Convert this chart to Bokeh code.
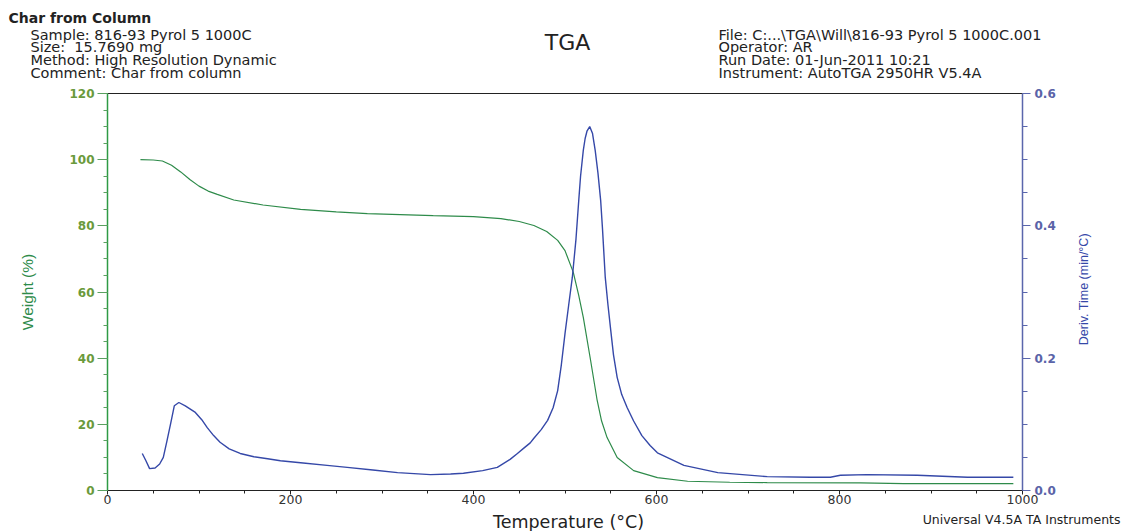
import math
from bokeh.plotting import figure
from bokeh.layouts import column, row
from bokeh.models import Range1d, LinearAxis, SingleIntervalTicker, FixedTicker, PrintfTickFormatter
from bokeh.core.properties import value
from bokeh.embed import file_html
from bokeh.resources import INLINE

# ---- data ----
weight_temp = [36, 50, 60, 70, 80, 90, 100, 110, 120, 138, 170, 211, 250, 284, 356, 400,
               430, 450, 466, 480, 492, 500, 509, 515, 520, 528, 535, 540, 546, 557, 575,
               601, 634, 680, 721, 823, 870, 990]
weight_pct = [100.0, 99.9, 99.6, 98.3, 96.3, 94.0, 92.0, 90.5, 89.5, 87.8, 86.3, 85.0, 84.2,
              83.7, 83.1, 82.8, 82.2, 81.3, 80.1, 78.3, 75.6, 72.5, 66.0, 59.0, 52.3, 39.3,
              27.5, 21.0, 16.0, 10.0, 6.0, 3.9, 2.8, 2.5, 2.4, 2.3, 2.1, 2.1]

deriv_temp = [38, 42, 46, 52, 57, 61, 65, 69, 73, 78, 85, 96, 103, 109, 116, 123, 133, 145,
              160, 175, 189, 211, 240, 262, 290, 317, 353, 375, 389, 410, 426, 440, 448, 455,
              462, 466, 474, 481, 487, 492, 496, 500, 504, 508, 512, 515, 517, 520, 522, 524,
              527, 530, 533, 536, 539, 541, 544, 547, 550, 553, 557, 562, 568, 575, 584, 593,
              601, 630, 667, 721, 768, 790, 801, 830, 885, 940, 990]
deriv_val = [0.056, 0.045, 0.033, 0.034, 0.040, 0.050, 0.075, 0.101, 0.128, 0.133, 0.128,
             0.118, 0.107, 0.095, 0.083, 0.073, 0.063, 0.056, 0.051, 0.048, 0.045, 0.042,
             0.038, 0.035, 0.031, 0.027, 0.024, 0.025, 0.026, 0.030, 0.035, 0.047, 0.056,
             0.064, 0.072, 0.079, 0.092, 0.106, 0.125, 0.151, 0.190, 0.237, 0.280, 0.322,
             0.380, 0.438, 0.475, 0.514, 0.532, 0.543, 0.550, 0.540, 0.514, 0.480, 0.438,
             0.395, 0.322, 0.280, 0.242, 0.205, 0.171, 0.145, 0.125, 0.105, 0.083, 0.068,
             0.057, 0.038, 0.027, 0.021, 0.020, 0.020, 0.023, 0.024, 0.023, 0.020, 0.020]

deriv_ticks = [0.0, 0.2, 0.4, 0.6]
deriv_minor = [0.05, 0.1, 0.15, 0.25, 0.3, 0.35, 0.45, 0.5, 0.55]

header_title = "Char from Column"
header_left = ["Sample: 816-93 Pyrol 5 1000C", "Size:\u00a0 15.7690 mg",
               "Method: High Resolution Dynamic", "Comment: Char from column"]
header_right = ["File: C:...\\TGA\\Will\\816-93 Pyrol 5 1000C.001", "Operator: AR",
                "Run Date: 01-Jun-2011 10:21", "Instrument: AutoTGA 2950HR V5.4A"]
chart_title = "TGA"
x_label = "Temperature (°C)"
y_label = "Weight (%)"
y2_label = "Deriv. Time (min/°C)"
footer_note = "Universal V4.5A TA Instruments"

GREEN = "#2e8b4a"
GREEN_AX = "#2e9a44"
GREEN_TXT = "#6a9a3c"
BLUE = "#3548a8"
BLUE_AX = "#5a66ac"
BLUE_TXT = "#5a63a8"
FONT = "DejaVu Sans"
FONT2 = "Liberation Sans"

W, H = 1123, 531
HEAD_H = 85                 # header strip height
MAIN_W = 1060               # main figure width (right strip follows)
MAIN_BOTTOM = 511           # page y where main figure ends
FL, FR, FT, FB = 107, 1022, 93, 490
MAIN_H = MAIN_BOTTOM - HEAD_H
FOOT_H = H - MAIN_BOTTOM


def blank(width, height):
    f = figure(width=width, height=height, output_backend="svg", toolbar_location=None,
               x_range=Range1d(0, width), y_range=Range1d(height, 0),
               x_axis_location=None, y_axis_location=None, min_border=0)
    f.xgrid.visible = False
    f.ygrid.visible = False
    f.outline_line_color = None
    f.background_fill_color = "white"
    f.border_fill_color = "white"
    return f


def put(f, txt, x, y, size, color="#222222", align="left", style="normal", angle=0.0, font=FONT):
    f.text(x=[x], y=[y], text=[txt], text_font=value(font), text_font_size=value(size),
           text_color=color, text_align=align, text_baseline="middle",
           text_font_style=style, angle=angle)


# ---- header ----
head = blank(W, HEAD_H)
put(head, header_title, 8, 17, "14px", style="bold")
for i, t in enumerate(header_left):
    put(head, t, 30, 34 + i * 12.7, "14.5px")
for i, t in enumerate(header_right):
    put(head, t, 718, 34 + i * 12.7, "14.5px")
put(head, chart_title, 567, 42, "22px", align="center")

# ---- main chart ----
p = figure(width=MAIN_W, height=MAIN_H, output_backend="svg", toolbar_location=None,
           x_range=Range1d(0, 1000), y_range=Range1d(0, 120),
           min_border_left=FL, min_border_right=MAIN_W - FR, min_border_top=FT - HEAD_H,
           min_border_bottom=MAIN_BOTTOM - FB, x_axis_location=None, y_axis_location=None)
p.extra_y_ranges = {"deriv": Range1d(0, 0.6)}
p.xgrid.visible = False
p.ygrid.visible = False
p.outline_line_color = "#222222"
p.outline_line_width = 1
p.background_fill_color = "white"
p.border_fill_color = "white"

xa = LinearAxis(ticker=SingleIntervalTicker(interval=200, num_minor_ticks=4))
xa.axis_line_color = "#222222"
xa.major_tick_line_color = "#222222"
xa.minor_tick_line_color = "#222222"
xa.major_tick_out = 4
xa.major_tick_in = 0
xa.minor_tick_out = 3
xa.minor_tick_in = 0
xa.major_label_standoff = 0
xa.major_label_text_font = FONT
xa.major_label_text_font_size = "12.5px"
xa.major_label_text_color = "#333333"
p.add_layout(xa, "below")

ya = LinearAxis(ticker=SingleIntervalTicker(interval=20, num_minor_ticks=4))
ya.axis_line_color = GREEN_AX
ya.axis_line_width = 1.5
ya.major_tick_line_color = "#5aa060"
ya.minor_tick_line_color = "#5aa060"
ya.major_tick_out = 10
ya.major_tick_in = 0
ya.minor_tick_out = 4
ya.minor_tick_in = 0
ya.major_label_standoff = 3
ya.major_label_text_font = FONT
ya.major_label_text_font_size = "12px"
ya.major_label_text_font_style = "bold"
ya.major_label_text_color = GREEN_TXT
ya.axis_label = y_label
ya.axis_label_text_font = FONT2
ya.axis_label_text_font_size = "15.5px"
ya.axis_label_text_font_style = "normal"
ya.axis_label_text_color = GREEN
ya.axis_label_standoff = 30
p.add_layout(ya, "left")

ra = LinearAxis(y_range_name="deriv",
                ticker=FixedTicker(ticks=deriv_ticks, minor_ticks=deriv_minor),
                formatter=PrintfTickFormatter(format="%.1f"))
ra.axis_line_color = BLUE_AX
ra.axis_line_width = 1.5
ra.major_tick_line_color = BLUE_AX
ra.minor_tick_line_color = BLUE_AX
ra.major_tick_out = 8
ra.major_tick_in = 0
ra.minor_tick_out = 5
ra.minor_tick_in = 0
ra.major_label_standoff = 4
ra.major_label_text_font = FONT
ra.major_label_text_font_size = "12px"
ra.major_label_text_font_style = "bold"
ra.major_label_text_color = BLUE_TXT
p.add_layout(ra, "right")

p.line(weight_temp, weight_pct, line_color=GREEN, line_width=1.2)
p.line(deriv_temp, deriv_val, line_color=BLUE, line_width=1.4, y_range_name="deriv")

# ---- right strip with the second axis title ----
strip = blank(W - MAIN_W, MAIN_H)
put(strip, y2_label, 1083 - MAIN_W, 295 - HEAD_H, "12.5px", color=BLUE, align="center",
    angle=math.pi / 2, font=FONT2)

# ---- footer ----
foot = blank(W, FOOT_H)
put(foot, x_label, 568, 521 - MAIN_BOTTOM, "17.5px", align="center")
put(foot, footer_note, 1120, 519 - MAIN_BOTTOM, "12.5px", align="right")

layout = column(head, row(p, strip, spacing=0), foot, spacing=0)
open("out.html", "w").write(file_html(layout, INLINE))
